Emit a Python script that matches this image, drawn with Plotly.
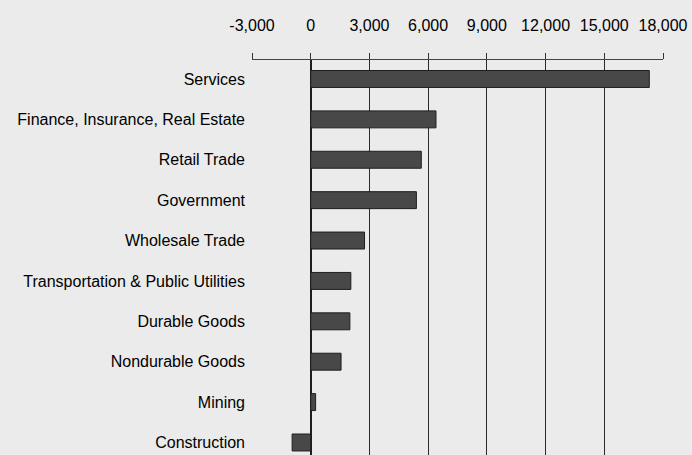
import plotly.graph_objects as go

categories = ["Services", "Finance, Insurance, Real Estate", "Retail Trade", "Government",
              "Wholesale Trade", "Transportation & Public Utilities", "Durable Goods",
              "Nondurable Goods", "Mining", "Construction"]
values = [17300, 6400, 5650, 5400, 2750, 2050, 2000, 1550, 250, -950]
tick_vals = [-3000, 0, 3000, 6000, 9000, 12000, 15000, 18000]
tick_text = ["-3,000", "0", "3,000", "6,000", "9,000", "12,000", "15,000", "18,000"]
grid_vals = [0, 3000, 6000, 9000, 12000, 15000]

FONT = "Liberation Sans Narrow, Arial Narrow, Liberation Sans, Arial, sans-serif"

fig = go.Figure(go.Bar(
    x=values, y=categories, orientation="h",
    marker=dict(color="#484848", line=dict(color="#1e1e1e", width=1)),
    width=0.42,
))

fig.update_layout(
    width=692, height=455,
    margin=dict(l=252, r=29, t=60, b=0),
    paper_bgcolor="#ebebeb", plot_bgcolor="#ebebeb",
    showlegend=False,
    font=dict(family=FONT, color="#000000"),
)
fig.update_xaxes(
    side="top", range=[-3000, 18000],
    tickvals=tick_vals, ticktext=tick_text,
    tickfont=dict(size=16, family=FONT, color="#000000"),
    showgrid=False, zeroline=True, zerolinecolor="#1e1e1e", zerolinewidth=1.6,
    showline=True, linecolor="#444444", linewidth=1,
    ticks="outside", ticklen=6, tickcolor="#333333",
    ticklabelstandoff=16,
    minor=dict(tickvals=grid_vals, showgrid=True, gridcolor="#2a2a2a", gridwidth=1.4, ticks=""),
)
fig.update_yaxes(
    categoryorder="array", categoryarray=categories,
    range=[9.31, -0.47],
    tickfont=dict(size=16, family=FONT, color="#000000"),
    showgrid=False, zeroline=False, showline=False, ticks="",
    ticklabelstandoff=6,
)

fig.write_html("out.html")
